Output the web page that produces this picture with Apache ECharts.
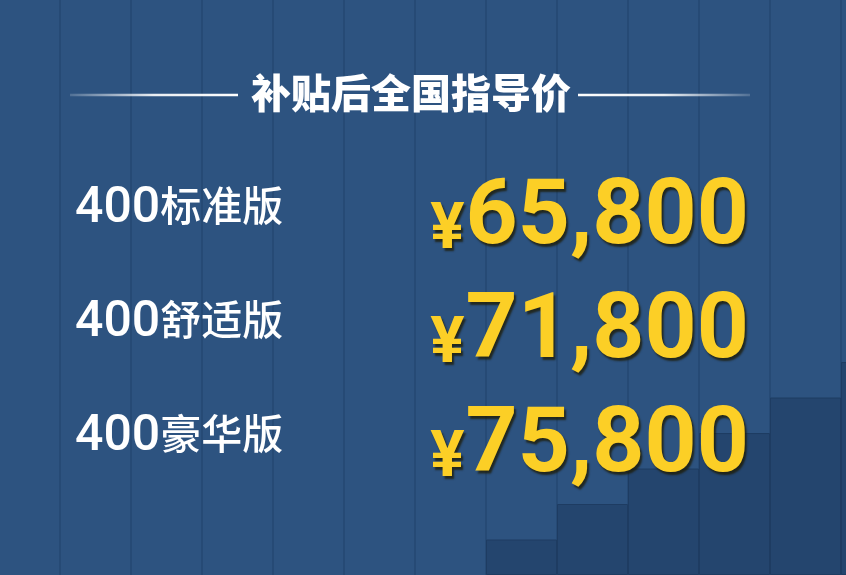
<!DOCTYPE html>
<html>
<head>
<meta charset="utf-8">
<script src="https://cdn.jsdelivr.net/npm/echarts@6/dist/echarts.min.js"></script>
<style>
  html, body { margin: 0; padding: 0; background: #2d5380; }
  #main { width: 846px; height: 575px; }
</style>
</head>
<body>
<div id="main"></div>
<script>
// 车型 & 补贴后价格
var models = ['400标准版', '400舒适版', '400豪华版'];
var prices = [65800, 71800, 75800];
var titleText = '补贴后全国指导价';

// 背景竖条与右下角台阶
var columns = ['c1', 'c2', 'c3', 'c4', 'c5', 'c6', 'c7', 'c8', 'c9', 'c10', 'c11', 'c12', 'c13'];
var steps = [null, null, null, null, null, null, null, 1, 2, 3, 4, 5, 6];

var chart = echarts.init(document.getElementById('main'));

function fmtPrice(v) {
    return '{y|¥}{n|' + echarts.format.addCommas(v) + '}';
}

var shadow = {
    textShadowColor: 'rgba(30,25,0,0.75)', textShadowOffsetX: 2,
    textShadowOffsetY: 3, textShadowBlur: 2
};

var option = {
    backgroundColor: '#2d5380',
    animation: false,
    graphic: [
        {
            type: 'text', left: 251, top: 73, z: 100,
            style: {
                text: titleText, fill: '#ffffff',
                font: '900 40px "Noto Sans CJK SC"'
            }
        },
        {
            type: 'line', z: 100, shape: {x1: 70, y1: 95, x2: 238, y2: 95},
            style: {
                lineWidth: 2.5,
                stroke: new echarts.graphic.LinearGradient(0, 0, 1, 0, [
                    {offset: 0, color: 'rgba(255,255,255,0.15)'},
                    {offset: 0.5, color: 'rgba(255,255,255,0.9)'},
                    {offset: 1, color: '#ffffff'}
                ])
            }
        },
        {
            type: 'line', z: 100, shape: {x1: 578, y1: 95, x2: 750, y2: 95},
            style: {
                lineWidth: 2.5,
                stroke: new echarts.graphic.LinearGradient(0, 0, 1, 0, [
                    {offset: 0, color: '#ffffff'},
                    {offset: 0.5, color: 'rgba(255,255,255,0.9)'},
                    {offset: 1, color: 'rgba(255,255,255,0.15)'}
                ])
            }
        }
    ],
    grid: [
        {left: -11, width: 923, top: 0, bottom: 0, outerBoundsMode: 'none'},
        {left: 75, right: 98, top: 152, height: 342, outerBoundsMode: 'none'}
    ],
    xAxis: [
        {
            gridIndex: 0, type: 'category', data: columns,
            axisLine: {show: false}, axisTick: {show: false}, axisLabel: {show: false},
            splitLine: {show: true, interval: 0, lineStyle: {color: '#264a75', width: 2}}
        },
        {
            gridIndex: 1, type: 'value', min: 0, max: 1, show: false
        }
    ],
    yAxis: [
        {
            gridIndex: 0, type: 'value', min: 0, max: 16.2, show: false
        },
        {
            gridIndex: 1, type: 'category', data: models, inverse: true,
            axisLine: {show: false}, axisTick: {show: false}, splitLine: {show: false},
            axisLabel: {
                align: 'left', margin: 0,
                formatter: function (v) {
                    var m = v.match(/^(\d+)(.*)$/);
                    return '{d|' + m[1] + '}{c|' + m[2] + '}';
                },
                rich: {
                    d: {color: '#ffffff', fontSize: 50, fontFamily: 'Roboto', fontWeight: 500},
                    c: {color: '#ffffff', fontSize: 41, fontFamily: 'Noto Sans CJK SC', fontWeight: 500,
                        padding: [0, 0, 8, 0]}
                }
            }
        }
    ],
    series: [
        {
            type: 'bar', xAxisIndex: 0, yAxisIndex: 0, z: 0,
            data: steps, barWidth: '100%', barCategoryGap: '0%',
            itemStyle: {color: '#24456e', borderColor: '#1e3c62', borderWidth: 1},
            silent: true
        },
        {
            type: 'custom', xAxisIndex: 1, yAxisIndex: 1, z: 10,
            data: prices.map(function (p, i) { return [i, p]; }),
            encode: {y: 0},
            renderItem: function (params, api) {
                var pt = api.coord([1, api.value(0)]);
                return {
                    type: 'text',
                    x: pt[0] + 1, y: pt[1] + 11,
                    style: {
                        text: fmtPrice(api.value(1)),
                        align: 'right', verticalAlign: 'middle',
                        rich: {
                            y: Object.assign({fill: '#fccf26', fontSize: 64, fontFamily: 'Roboto',
                                fontWeight: 'bold', padding: [24, 1, 0, 0]}, shadow),
                            n: Object.assign({fill: '#fccf26', fontSize: 91, fontFamily: 'Roboto',
                                fontWeight: 'bold'}, shadow)
                        }
                    }
                };
            }
        }
    ]
};

chart.setOption(option);
</script>
</body>
</html>
